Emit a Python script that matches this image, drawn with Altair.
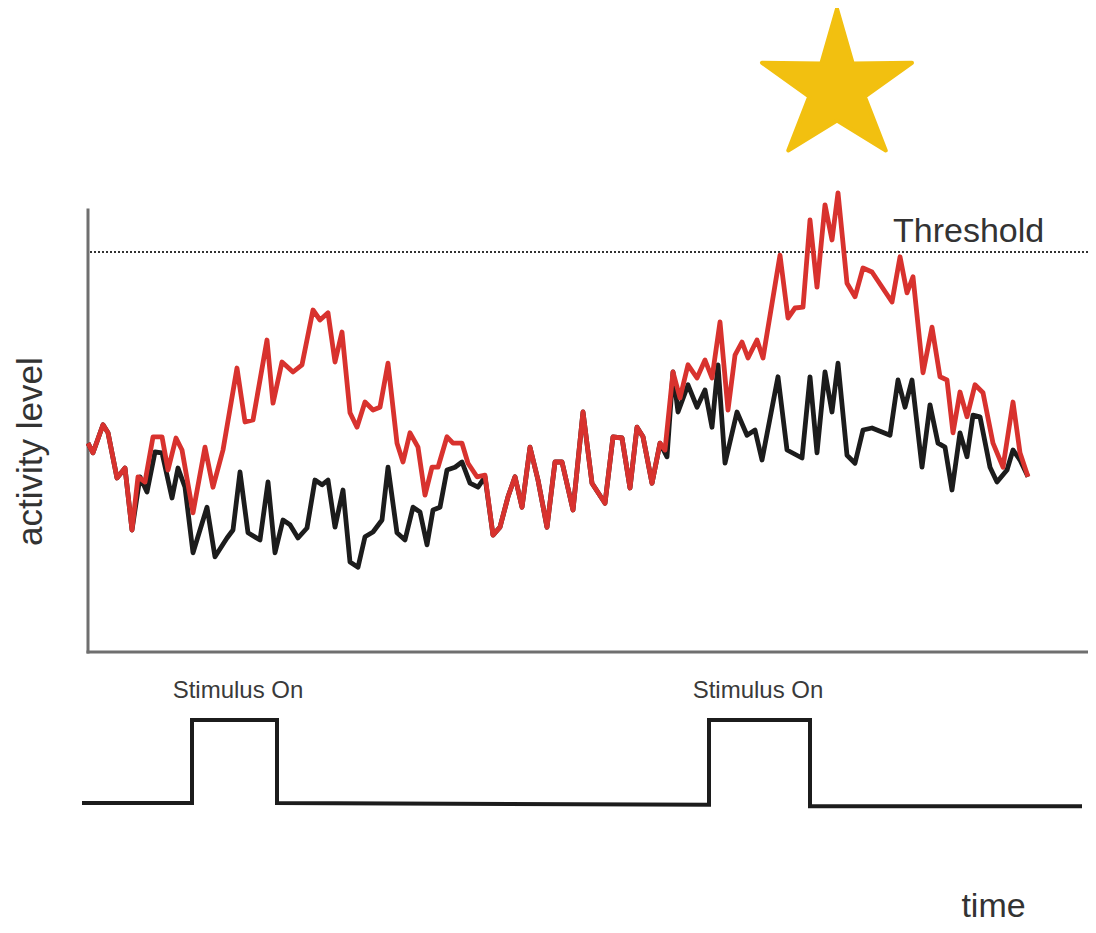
import altair as alt
import pandas as pd

# ---- data (time units, activity units) ----
red_t = [0.0, 0.5, 1.5, 2.0, 2.9, 3.7, 4.4, 5.0, 5.7, 6.5, 7.4, 8.0, 8.8, 9.4, 10.5, 11.7, 12.5, 13.5,
         14.9, 15.7, 16.5, 17.9, 18.5, 19.4, 20.5, 21.4, 22.5, 23.2, 24.0, 24.7, 25.4, 26.2, 26.9, 27.7,
         28.5, 29.2, 30.0, 30.9, 31.5, 32.2, 33.0, 33.7, 34.4, 35.0, 35.9, 36.5, 37.4, 38.0, 38.9, 39.7,
         40.5, 41.2, 42.0, 42.7, 43.4, 44.2, 45.0, 45.9, 46.7, 47.4, 48.5, 49.5, 50.4, 51.7, 52.5, 53.4,
         54.2, 54.9, 55.5, 56.4, 57.2, 57.7, 58.5, 59.2, 60.0, 60.9, 61.7, 62.4, 63.2, 64.0, 64.7, 65.4, 66.0,
         66.9, 67.5, 69.2, 70.0, 70.7, 71.5, 72.2, 72.9, 73.7, 74.4, 75.0, 75.9, 76.7, 77.5, 78.4, 80.4,
         81.2, 81.9, 82.5, 83.5, 84.4, 85.2, 85.9, 86.5, 87.2, 87.9, 88.7, 89.5, 90.5, 91.5, 92.5, 93.2, 94.0]
red_a = [52.2, 49.8, 56.8, 54.8, 43.5, 46.0, 30.5, 43.8, 42.5, 53.8, 53.8, 45.5, 53.5, 50.5, 34.8, 51.2, 41.2, 50.5,
         71.0, 57.5, 58.0, 78.0, 62.2, 72.5, 70.0, 71.8, 85.5, 83.0, 84.8, 72.5, 80.0, 59.8, 56.2, 62.5,
         60.5, 61.2, 72.2, 52.2, 47.5, 54.8, 51.2, 39.2, 46.2, 46.2, 53.8, 52.2, 52.2, 47.2, 43.8, 44.2,
         29.2, 31.2, 38.8, 43.8, 36.2, 51.2, 43.0, 31.2, 47.5, 47.5, 35.5, 60.0, 42.2, 37.2, 53.8, 53.5,
         41.0, 56.2, 53.8, 42.2, 52.2, 50.5, 70.0, 63.5, 71.8, 68.5, 73.0, 68.5, 82.5, 60.5, 74.2, 77.5, 73.5,
         78.0, 73.5, 99.2, 83.5, 86.0, 86.2, 108.0, 91.2, 111.8, 103.0, 114.8, 92.2, 88.8, 96.0, 95.0, 87.5,
         98.8, 89.8, 93.8, 69.8, 81.2, 68.8, 68.0, 54.8, 65.0, 58.8, 66.8, 64.8, 52.2, 46.2, 62.5, 49.8, 43.8]

black_t = [0.0, 0.5, 1.5, 2.0, 2.9, 3.7, 4.4, 5.2, 5.9, 6.7, 7.4, 8.4, 9.0, 9.7, 10.5, 11.9, 12.7, 13.9,
           14.5, 15.2, 16.0, 17.2, 18.0, 18.7, 19.5, 20.2, 21.0, 21.9, 22.7, 23.4, 24.0, 24.7, 25.5, 26.2,
           27.0, 27.7, 28.5, 29.4, 30.0, 30.9, 31.7, 32.5, 33.2, 33.9, 34.5, 35.2, 35.9, 36.7, 37.4, 38.2,
           39.0, 39.7, 40.5, 41.2, 42.0, 42.7, 43.4, 44.2, 45.0, 45.9, 46.7, 47.4, 48.5, 49.5, 50.4, 51.7,
           52.5, 53.4, 54.2, 54.9, 55.5, 56.4, 57.2, 57.9, 58.5, 59.0, 60.0, 60.9, 61.7, 62.4, 63.0, 63.7,
           64.9, 65.9, 66.7, 67.4, 69.0, 69.9, 71.4, 72.2, 72.9, 73.7, 74.4, 75.0, 75.9, 76.7, 77.5, 78.4,
           80.2, 81.0, 81.7, 82.4, 83.4, 84.2, 85.0, 85.7, 86.4, 87.2, 87.9, 88.5, 89.2, 90.2, 90.9, 91.9,
           92.5, 93.2, 94.0]
black_a = [52.2, 49.8, 56.8, 54.8, 43.5, 46.0, 30.5, 43.8, 40.0, 50.0, 49.8, 38.5, 46.0, 41.2, 24.8, 36.2, 23.8, 28.5,
           30.5, 45.0, 29.8, 28.0, 42.5, 24.8, 33.0, 31.8, 28.5, 31.0, 43.0, 41.8, 43.0, 31.2, 40.5, 22.5,
           21.2, 28.8, 30.0, 33.0, 46.2, 29.8, 28.0, 36.2, 35.0, 26.8, 35.5, 36.2, 45.5, 46.2, 47.5, 42.2,
           41.2, 43.8, 29.2, 31.2, 38.8, 43.8, 36.2, 51.2, 43.0, 31.2, 47.5, 47.5, 35.5, 60.0, 42.2, 37.2,
           53.8, 53.5, 41.0, 56.2, 53.8, 42.2, 52.2, 48.8, 70.0, 60.0, 66.8, 61.2, 65.5, 56.2, 71.8, 47.2,
           60.0, 54.2, 55.5, 48.0, 68.8, 50.5, 48.5, 68.8, 49.8, 70.0, 60.0, 72.2, 49.2, 47.2, 55.5, 56.0,
           54.2, 68.0, 61.2, 68.0, 46.2, 61.8, 52.2, 51.2, 40.5, 54.8, 48.8, 59.2, 58.8, 46.2, 42.5, 45.5,
           50.5, 48.0, 43.8]

# stimulus trace (0 = off, 1 = on)
stim_t = [-0.6, 10.4, 10.4, 18.9, 18.9, 62.1, 62.1, 72.2, 72.2, 99.4]
stim_s = [0.0, 0.0, 1.0, 1.0, 0.0, -0.02, 1.0, 1.0, -0.04, -0.04]

threshold_level = 100.0
star_t, star_a = [74.9], [143.0]

stim_label_t = [15.0, 67.0]
stim_label_s = [1.265, 1.265]
stim_labels = ["Stimulus On", "Stimulus On"]

text_t = [80.5, -4.65, 90.55]
text_a = [102.6, 50.1, -66.25]
text_labels = ["Threshold", "activity level", "time"]

# ---- scales ----
X_DOM = [-8, 100]
A_DOM = [-68.25, 161]
S_DOM = [-1.47, 9.578]
FONT = "Liberation Sans"

xs = alt.Scale(domain=X_DOM, nice=False, zero=False)
ya = alt.Scale(domain=A_DOM, nice=False, zero=False)
ys = alt.Scale(domain=S_DOM, nice=False, zero=False)

red_df = pd.DataFrame({"t": red_t, "a": red_a})
black_df = pd.DataFrame({"t": black_t, "a": black_a})
stim_df = pd.DataFrame({"t": stim_t, "s": stim_s, "i": list(range(len(stim_t)))})

axes_df = pd.DataFrame({"t": [0.0, 0.0], "t2": [0.0, 100.8], "a": [0.0, 0.0], "a2": [110.5, 0.0]})
thr_df = pd.DataFrame({"t": [0.2], "t2": [100.8], "a": [threshold_level]})

axes = alt.Chart(axes_df).mark_rule(color="#6f6f6f", strokeWidth=3, strokeCap="square").encode(
    x=alt.X("t:Q", scale=xs, axis=None), x2="t2:Q",
    y=alt.Y("a:Q", scale=ya, axis=None), y2="a2:Q")

thr = alt.Chart(thr_df).mark_rule(color="#333333", strokeWidth=2, strokeDash=[2, 2]).encode(
    x=alt.X("t:Q", scale=xs, axis=None), x2="t2:Q",
    y=alt.Y("a:Q", scale=ya, axis=None))

black_line = alt.Chart(black_df).mark_line(color="#1c1c1c", strokeWidth=4.8, strokeJoin="round").encode(
    x=alt.X("t:Q", scale=xs, axis=None), y=alt.Y("a:Q", scale=ya, axis=None))
red_line = alt.Chart(red_df).mark_line(color="#d8322e", strokeWidth=4.8, strokeJoin="round").encode(
    x=alt.X("t:Q", scale=xs, axis=None), y=alt.Y("a:Q", scale=ya, axis=None))

STAR = "M0,-0.95 L0.21,-0.22 L1,-0.23 L0.37,0.22 L0.65,0.94 L0,0.54 L-0.65,0.94 L-0.37,0.22 L-1,-0.23 L-0.21,-0.22 Z"
star = alt.Chart(pd.DataFrame({"t": star_t, "a": star_a})).mark_point(
    shape=STAR, size=22500, filled=True, fill="#f2c010", stroke="#f2c010",
    strokeWidth=4, strokeJoin="round", opacity=1).encode(
    x=alt.X("t:Q", scale=xs, axis=None), y=alt.Y("a:Q", scale=ya, axis=None))

texts_df = pd.DataFrame({"t": text_t, "a": text_a, "label": text_labels})
thr_text = alt.Chart(texts_df.iloc[[0]]).mark_text(
    font=FONT, fontSize=34, color="#333333", align="left", baseline="alphabetic").encode(
    x=alt.X("t:Q", scale=xs, axis=None), y=alt.Y("a:Q", scale=ya, axis=None), text="label:N")
ylab = alt.Chart(texts_df.iloc[[1]]).mark_text(
    font=FONT, fontSize=35, color="#333333", align="center", baseline="alphabetic", angle=270).encode(
    x=alt.X("t:Q", scale=xs, axis=None), y=alt.Y("a:Q", scale=ya, axis=None), text="label:N")
xlab = alt.Chart(texts_df.iloc[[2]]).mark_text(
    font=FONT, fontSize=34, color="#333333", align="center", baseline="alphabetic").encode(
    x=alt.X("t:Q", scale=xs, axis=None), y=alt.Y("a:Q", scale=ya, axis=None), text="label:N")

activity = alt.layer(axes, thr, black_line, red_line, star, thr_text, ylab, xlab)

stim_line = alt.Chart(stim_df).mark_line(color="#1c1c1c", strokeWidth=4, strokeJoin="miter").encode(
    x=alt.X("t:Q", scale=xs, axis=None), y=alt.Y("s:Q", scale=ys, axis=None),
    order=alt.Order("i:Q"))
stim_text = alt.Chart(pd.DataFrame({"t": stim_label_t, "s": stim_label_s, "label": stim_labels})).mark_text(
    font=FONT, fontSize=24, color="#3a3a3a", align="center", baseline="alphabetic").encode(
    x=alt.X("t:Q", scale=xs, axis=None), y=alt.Y("s:Q", scale=ys, axis=None), text="label:N")
stimulus = alt.layer(stim_line, stim_text)

chart = alt.layer(activity, stimulus).resolve_scale(y="independent").properties(
    width=1080, height=917, padding=0, autosize="none", background="white"
).configure_view(strokeWidth=0)

chart.save("out.html", embed_options={"renderer": "svg", "actions": False})
